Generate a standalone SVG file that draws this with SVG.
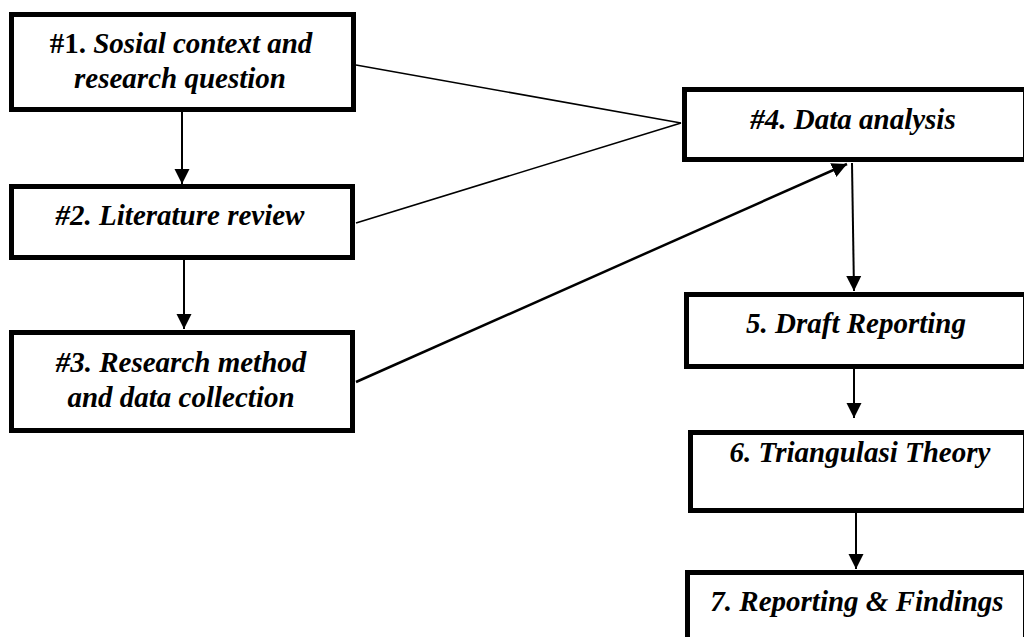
<svg xmlns="http://www.w3.org/2000/svg" width="1024" height="637" viewBox="0 0 1024 637">
<style>
.box{fill:#fff;stroke:#000;stroke-width:5;stroke-linejoin:miter}
.t{font-weight:bold;font-style:italic;font-size:29px;fill:#000;text-anchor:middle}
.up{font-style:normal}
.ln{fill:none;stroke:#000}
</style>
<defs>
<marker id="ah" markerUnits="userSpaceOnUse" markerWidth="16" markerHeight="16" viewBox="0 0 16 16" refX="15" refY="8" orient="auto">
<path d="M0,0.5 L15,8 L0,15.5 Z" fill="#000"/>
</marker>
</defs>
<rect width="1024" height="637" fill="#fff"/>
<g id="connectors">
<line class="ln" x1="182" y1="112" x2="182" y2="184" stroke-width="2" marker-end="url(#ah)"/>
<line class="ln" x1="184" y1="260" x2="184" y2="329" stroke-width="2" marker-end="url(#ah)"/>
<line class="ln" x1="356" y1="65" x2="681" y2="123" stroke-width="1.6"/>
<line class="ln" x1="356" y1="223" x2="681" y2="123" stroke-width="1.6"/>
<line class="ln" x1="356" y1="382" x2="847" y2="164" stroke-width="2.5" marker-end="url(#ah)"/>
<line class="ln" x1="852" y1="163" x2="854" y2="291" stroke-width="2" marker-end="url(#ah)"/>
<line class="ln" x1="854" y1="369" x2="854" y2="418" stroke-width="2" marker-end="url(#ah)"/>
<line class="ln" x1="856" y1="513" x2="856" y2="569" stroke-width="2" marker-end="url(#ah)"/>
</g>
<g font-family="Liberation Serif, 'Times New Roman', Times, 'DejaVu Serif', serif">
<g id="node1">
<rect class="box" x="11.5" y="14.5" width="342" height="95"/>
<text class="t" x="181" y="53"><tspan class="up">#1.</tspan> Sosial context and</text>
<text class="t" x="180" y="88">research question</text>
</g>
<g id="node2">
<rect class="box" x="11.5" y="186.5" width="341" height="71"/>
<text class="t" x="180" y="225">#2. Literature review</text>
</g>
<g id="node3">
<rect class="box" x="11.5" y="332.5" width="341" height="98"/>
<text class="t" x="181" y="372">#3. Research method</text>
<text class="t" x="181" y="407">and data collection</text>
</g>
<g id="node4">
<rect class="box" x="684.5" y="89.5" width="341" height="70"/>
<text class="t" x="853" y="129">#4. Data analysis</text>
</g>
<g id="node5">
<rect class="box" x="686.5" y="294.5" width="339" height="72"/>
<text class="t" x="856" y="333">5. Draft Reporting</text>
</g>
<g id="node6">
<rect class="box" x="690.5" y="432.5" width="335" height="78"/>
<text class="t" x="860" y="462">6. Triangulasi Theory</text>
</g>
<g id="node7">
<rect class="box" x="687.5" y="572.5" width="338" height="100"/>
<text class="t" x="857" y="611">7. Reporting &amp; Findings</text>
</g>
</g>
</svg>
